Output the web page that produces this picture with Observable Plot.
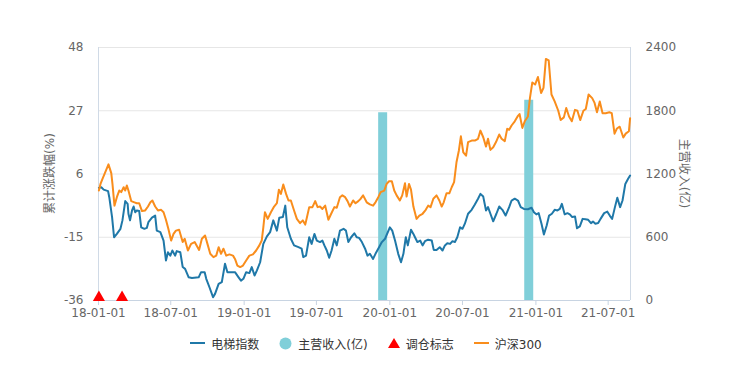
<!DOCTYPE html>
<html><head><meta charset="utf-8">
<script src="https://cdn.jsdelivr.net/npm/d3@7"></script>
<script src="https://cdn.jsdelivr.net/npm/@observablehq/plot@0.6"></script>
<style>
body{margin:0;background:#fff;font-family:"DejaVu Sans","Noto Sans CJK SC",sans-serif;}
#chart{width:730px;height:368px;position:relative;overflow:hidden}
.legend{display:flex;justify-content:center;align-items:center;gap:20px;font-size:12px;color:#333;height:18px;margin-top:9px;padding-left:2px}
.item{display:flex;align-items:center;gap:6px}
.item svg{display:block}
</style></head><body><div id="chart"></div>
<script>
// 电梯指数 (cumulative %, left axis)
const elevatorDates = ["2018-01-02","2018-01-08","2018-01-14","2018-01-25","2018-01-28","2018-02-04","2018-02-09","2018-02-16","2018-02-25","2018-03-02","2018-03-09","2018-03-15","2018-03-17","2018-03-21","2018-03-26","2018-03-30","2018-04-03","2018-04-07","2018-04-13","2018-04-18","2018-04-26","2018-05-02","2018-05-06","2018-05-15","2018-05-23","2018-05-27","2018-06-05","2018-06-13","2018-06-19","2018-06-24","2018-06-30","2018-07-05","2018-07-12","2018-07-16","2018-07-25","2018-07-31","2018-08-06","2018-08-15","2018-08-23","2018-09-09","2018-09-15","2018-09-24","2018-09-28","2018-10-06","2018-10-15","2018-10-20","2018-10-29","2018-11-06","2018-11-14","2018-11-20","2018-12-01","2018-12-09","2018-12-18","2018-12-24","2018-12-30","2019-01-06","2019-01-14","2019-01-20","2019-01-27","2019-02-02","2019-02-10","2019-02-18","2019-02-27","2019-03-07","2019-03-15","2019-03-24","2019-03-30","2019-04-08","2019-04-14","2019-04-19","2019-04-28","2019-05-06","2019-05-17","2019-05-25","2019-05-29","2019-06-05","2019-06-13","2019-06-19","2019-06-26","2019-07-02","2019-07-10","2019-07-16","2019-07-21","2019-07-27","2019-08-02","2019-08-08","2019-08-15","2019-08-21","2019-08-29","2019-09-07","2019-09-13","2019-09-19","2019-09-26","2019-10-04","2019-10-10","2019-10-16","2019-10-23","2019-10-31","2019-11-06","2019-11-12","2019-11-20","2019-11-26","2019-12-05","2019-12-12","2019-12-20","2020-01-01","2020-01-07","2020-01-14","2020-01-22","2020-01-29","2020-02-04","2020-02-10","2020-02-15","2020-02-23","2020-02-29","2020-03-04","2020-03-10","2020-03-17","2020-03-23","2020-03-29","2020-04-06","2020-04-15","2020-04-20","2020-04-27","2020-05-05","2020-05-12","2020-05-18","2020-05-24","2020-05-31","2020-06-06","2020-06-12","2020-06-18","2020-06-25","2020-07-01","2020-07-07","2020-07-15","2020-07-24","2020-08-01","2020-08-09","2020-08-15","2020-08-22","2020-08-29","2020-09-03","2020-09-09","2020-09-16","2020-09-24","2020-10-01","2020-10-09","2020-10-17","2020-10-26","2020-11-01","2020-11-09","2020-11-17","2020-11-24","2020-12-02","2020-12-12","2020-12-21","2020-12-27","2021-01-02","2021-01-08","2021-01-15","2021-01-21","2021-01-28","2021-02-03","2021-02-10","2021-02-17","2021-02-24","2021-03-02","2021-03-07","2021-03-14","2021-03-21","2021-03-27","2021-04-02","2021-04-09","2021-04-14","2021-04-21","2021-04-28","2021-05-05","2021-05-12","2021-05-19","2021-05-24","2021-05-30","2021-06-06","2021-06-12","2021-06-21","2021-06-29","2021-07-05","2021-07-11","2021-07-18","2021-07-24","2021-07-31","2021-08-06","2021-08-13","2021-08-20","2021-08-25"];
const elevatorValues = [1.4,1.6,0.8,0.3,-1.7,-8.3,-15.0,-13.9,-12.2,-9.4,-3.0,-3.9,-7.2,-9.4,-6.1,-4.8,-6.7,-6.1,-6.3,-11.7,-12.2,-11.9,-10.0,-8.5,-7.8,-12.8,-13.3,-16.1,-22.7,-20.0,-21.1,-19.4,-21.1,-19.6,-20.0,-24.9,-25.5,-28.3,-28.5,-28.3,-26.6,-26.6,-28.8,-31.6,-34.9,-33.8,-30.5,-29.9,-23.8,-26.6,-26.6,-26.6,-28.3,-29.4,-28.8,-26.6,-26.9,-24.9,-27.7,-26.0,-23.3,-17.2,-14.7,-13.3,-9.4,-12.8,-8.5,-8.3,-4.5,-11.7,-15.5,-17.7,-18.3,-18.8,-21.6,-21.1,-15.0,-17.2,-13.9,-16.1,-16.6,-16.1,-17.7,-19.4,-21.8,-19.4,-15.5,-17.7,-12.8,-12.2,-12.8,-16.6,-15.0,-13.7,-15.0,-15.2,-16.6,-18.8,-21.1,-20.5,-22.2,-20.5,-18.3,-16.6,-15.5,-11.7,-12.8,-16.1,-20.5,-23.3,-20.5,-15.0,-17.7,-12.5,-13.9,-15.0,-16.6,-16.1,-17.7,-16.3,-15.8,-16.1,-19.2,-19.2,-18.3,-19.4,-17.7,-17.0,-17.2,-16.3,-16.6,-15.0,-11.7,-12.2,-10.5,-7.2,-5.9,-4.1,-2.2,-0.6,-1.5,-6.1,-5.0,-7.2,-9.7,-7.2,-4.8,-5.9,-7.8,-5.0,-2.8,-2.2,-2.8,-5.0,-5.6,-5.7,-5.2,-6.7,-7.4,-7.0,-10.5,-14.1,-11.1,-7.8,-7.2,-5.9,-6.1,-5.6,-3.9,-7.4,-7.0,-7.4,-8.3,-8.1,-12.0,-11.4,-8.9,-9.0,-9.2,-10.3,-9.8,-10.5,-10.3,-8.9,-7.0,-6.5,-7.8,-8.9,-5.0,-1.9,-5.0,-2.8,2.7,4.4,5.5];

// 沪深300 (cumulative %, left axis)
const hs300Dates = ["2018-01-02","2018-01-06","2018-01-11","2018-01-18","2018-01-26","2018-02-02","2018-02-05","2018-02-10","2018-02-16","2018-02-22","2018-02-27","2018-03-05","2018-03-09","2018-03-13","2018-03-17","2018-03-24","2018-04-01","2018-04-07","2018-04-13","2018-04-20","2018-04-28","2018-05-05","2018-05-11","2018-05-16","2018-05-23","2018-05-30","2018-06-07","2018-06-13","2018-06-19","2018-06-25","2018-07-02","2018-07-08","2018-07-14","2018-07-22","2018-07-31","2018-08-05","2018-08-13","2018-08-21","2018-08-30","2018-09-10","2018-09-17","2018-09-25","2018-10-01","2018-10-08","2018-10-16","2018-10-23","2018-10-29","2018-11-04","2018-11-10","2018-11-17","2018-11-25","2018-12-04","2018-12-09","2018-12-15","2018-12-22","2018-12-29","2019-01-06","2019-01-14","2019-01-23","2019-01-31","2019-02-08","2019-02-14","2019-02-18","2019-02-22","2019-03-01","2019-03-09","2019-03-17","2019-03-24","2019-03-29","2019-04-03","2019-04-09","2019-04-16","2019-04-22","2019-04-28","2019-05-06","2019-05-13","2019-05-21","2019-05-28","2019-06-03","2019-06-07","2019-06-13","2019-06-21","2019-06-28","2019-07-04","2019-07-10","2019-07-16","2019-07-23","2019-07-31","2019-08-07","2019-08-15","2019-08-21","2019-08-29","2019-09-04","2019-09-11","2019-09-17","2019-09-23","2019-10-01","2019-10-07","2019-10-14","2019-10-20","2019-10-26","2019-11-04","2019-11-12","2019-11-20","2019-11-26","2019-12-03","2019-12-09","2019-12-18","2019-12-24","2019-12-30","2020-01-06","2020-01-12","2020-01-18","2020-01-26","2020-02-01","2020-02-08","2020-02-12","2020-02-18","2020-02-23","2020-02-29","2020-03-08","2020-03-15","2020-03-23","2020-03-31","2020-04-06","2020-04-12","2020-04-19","2020-04-27","2020-05-04","2020-05-10","2020-05-15","2020-05-22","2020-05-29","2020-06-04","2020-06-10","2020-06-16","2020-06-22","2020-06-27","2020-07-03","2020-07-10","2020-07-15","2020-07-24","2020-08-01","2020-08-09","2020-08-15","2020-08-22","2020-08-29","2020-09-03","2020-09-09","2020-09-16","2020-09-23","2020-10-01","2020-10-07","2020-10-15","2020-10-21","2020-10-26","2020-11-01","2020-11-09","2020-11-16","2020-11-21","2020-11-28","2020-12-04","2020-12-12","2020-12-17","2020-12-23","2020-12-30","2021-01-06","2021-01-14","2021-01-20","2021-01-26","2021-02-02","2021-02-09","2021-02-17","2021-02-26","2021-03-04","2021-03-12","2021-03-18","2021-03-25","2021-04-01","2021-04-09","2021-04-15","2021-04-22","2021-04-30","2021-05-06","2021-05-13","2021-05-22","2021-05-28","2021-06-03","2021-06-10","2021-06-17","2021-06-25","2021-07-04","2021-07-10","2021-07-17","2021-07-23","2021-07-30","2021-08-08","2021-08-14","2021-08-22","2021-08-25"];
const hs300Values = [0.5,2.7,4.4,6.6,9.2,6.3,2.7,-4.5,-1.7,0.5,0,1.6,0.5,2.2,0.5,-3.0,-3.4,-3.7,-3.7,-6.3,-6.1,-4.8,-3.4,-2.8,-4.8,-6.1,-5.9,-6.7,-9.2,-12.2,-16.1,-13.9,-12.8,-12.5,-16.6,-15.5,-19.4,-17.2,-16.6,-19.2,-15.5,-14.4,-17.2,-20.5,-21.6,-21.1,-18.3,-20.5,-18.8,-21.1,-20.7,-21.1,-22.2,-24.4,-24.9,-24.4,-22.7,-21.1,-20.7,-19.4,-17.7,-16.1,-11.7,-6.7,-8.9,-6.7,-4.8,-3.7,0.8,-0.6,2.5,-0.6,-2.8,-2.8,-6.1,-8.9,-10.3,-9.4,-10.8,-8.5,-5.0,-5.0,-3.0,-5.0,-4.8,-5.6,-4.5,-9.2,-7.2,-5.0,-5.2,-1.7,-1.1,-1.7,-3.0,-4.8,-2.8,-3.7,-3.0,-2.2,-1.1,-3.4,-4.1,-4.5,-3.4,-1.7,0,0.5,2.7,3.6,3.6,0.5,-1.1,-2.8,-1.1,2.9,-1.5,2.7,0.8,-4.8,-8.9,-7.8,-7.2,-5.9,-4.5,-5.0,-2.2,-1.1,-2.8,-4.8,-3.4,-0.4,-0.4,1.6,3.3,9.9,13.8,18.5,13.2,12.1,16.6,17.1,17.1,17.7,20.4,18.2,15.1,17.7,14.0,14.9,16.6,19.1,17.7,16.9,21.0,20.7,22.1,23.5,25.1,25.9,21.3,23.5,25.1,31.2,36.4,35.7,38.2,32.9,34.6,44.2,43.7,32.4,30.1,27.0,23.9,24.8,27.9,25.1,23.5,27.3,27.0,23.9,27.0,27.6,32.4,31.2,29.6,26.5,30.1,26.2,26.2,26.5,26.2,19.4,21.1,21.7,18.1,19.4,20.2,24.5];

// 主营收入(亿) (right axis)
const revenueDates = ["2019-12-14","2020-12-14"];
const revenueValues = [1780,1900];

// 调仓标志
const signalDates = ["2018-01-02","2018-03-01"];

// tick labels and titles
const xTickDates = ["2018-01-01","2018-07-01","2019-01-01","2019-07-01","2020-01-01","2020-07-01","2021-01-01","2021-07-01"];
const leftTicks = [-36,-15,6,27,48];
const rightTicks = [0,600,1200,1800,2400];
const xDomain = ["2018-01-01","2021-08-26"];
const leftTitle = "累计涨跌幅(%)";
const rightTitle = "主营收入(亿)";

const parse = d3.utcParse("%Y-%m-%d");
const elevator = elevatorDates.map((d,i)=>({date:parse(d), value:elevatorValues[i]}));
const hs300 = hs300Dates.map((d,i)=>({date:parse(d), value:hs300Values[i]}));
const revenue = revenueDates.map((d,i)=>({date:parse(d), value:revenueValues[i]}));
const signals = signalDates.map(d=>({date:parse(d)}));
const xTicks = xTickDates.map(parse);
const toLeft = v => leftTicks[0] + (v - rightTicks[0]) * (leftTicks[leftTicks.length-1]-leftTicks[0])/(rightTicks[rightTicks.length-1]-rightTicks[0]);

const font = '"DejaVu Sans","Noto Sans CJK SC",sans-serif';
const W = 730, H = 325, ML = 98, MR = 100, MT = 47, MB = 25;
const plot = Plot.plot({
  width:W, height:H,
  marginLeft:ML, marginRight:MR, marginTop:MT, marginBottom:MB,
  style:{fontFamily:font, fontSize:"12px", background:"#fff", color:"#666"},
  x:{type:"utc", domain:xDomain.map(parse)},
  y:{domain:[leftTicks[0], leftTicks[leftTicks.length-1]]},
  marks:[
    Plot.ruleY(leftTicks.slice(1), {stroke:"#e6e6e6", strokeWidth:1}),
    Plot.ruleX(xDomain.map(parse), {stroke:"#d0dae6", strokeWidth:1}),
    Plot.ruleY([leftTicks[0]], {stroke:"#c8d4e2", strokeWidth:1}),
    Plot.axisX({ticks:xTicks, tickFormat:d3.utcFormat("%y-%m-%d"), tickSize:5, tickPadding:3, color:"#666", stroke:"#c8d4e2", label:null}),
    Plot.axisY({anchor:"left", ticks:leftTicks, tickFormat:d=>String(d), tickSize:0, tickPadding:15, color:"#666", label:null}),
    Plot.axisY({anchor:"right", ticks:leftTicks, tickFormat:d=>String(rightTicks[leftTicks.indexOf(d)]), tickSize:0, tickPadding:15, color:"#666", label:null}),
    Plot.ruleX(revenue, {x:"date", y1:leftTicks[0], y2:d=>toLeft(d.value), stroke:"#80cfd9", strokeWidth:9}),
    Plot.line(elevator, {x:"date", y:"value", stroke:"#1f78a8", strokeWidth:2}),
    Plot.line(hs300, {x:"date", y:"value", stroke:"#f98d1c", strokeWidth:2}),
    Plot.dot(signals, {x:"date", y:leftTicks[0], symbol:"triangle", r:4.5, fill:"#ff0000", stroke:"none", dy:-3})
  ]
});
const chart = document.getElementById("chart");
chart.appendChild(plot);

// rotated axis titles
const svg = d3.select(plot);
const midY = MT + (H - MT - MB) / 2;
svg.append("text")
  .attr("transform", `translate(${ML - 48},${midY}) rotate(-90)`)
  .attr("text-anchor", "middle").attr("dominant-baseline", "middle")
  .attr("fill", "#666").attr("font-size", 12).text(leftTitle);
svg.append("text")
  .attr("transform", `translate(${W - MR + 53},${midY}) rotate(90)`)
  .attr("text-anchor", "middle").attr("dominant-baseline", "middle")
  .attr("fill", "#666").attr("font-size", 12).text(rightTitle);

const legend = document.createElement("div");
legend.className = "legend";
const items = [
  {name:"电梯指数", sw:'<svg width="15" height="12"><line x1="0" y1="6" x2="15" y2="6" stroke="#1f78a8" stroke-width="2"/></svg>'},
  {name:"主营收入(亿)", sw:'<svg width="13" height="13"><circle cx="6.5" cy="6.5" r="6" fill="#80cfd9"/></svg>'},
  {name:"调仓标志", sw:'<svg width="12" height="12"><path d="M6,1L12,11L0,11Z" fill="#ff0000"/></svg>'},
  {name:"沪深300", sw:'<svg width="15" height="12"><line x1="0" y1="6" x2="15" y2="6" stroke="#f98d1c" stroke-width="2"/></svg>'}
];
for (const it of items) {
  const el = document.createElement("div");
  el.className = "item";
  el.innerHTML = it.sw + "<span>" + it.name + "</span>";
  legend.appendChild(el);
}
chart.appendChild(legend);
</script></body></html>
